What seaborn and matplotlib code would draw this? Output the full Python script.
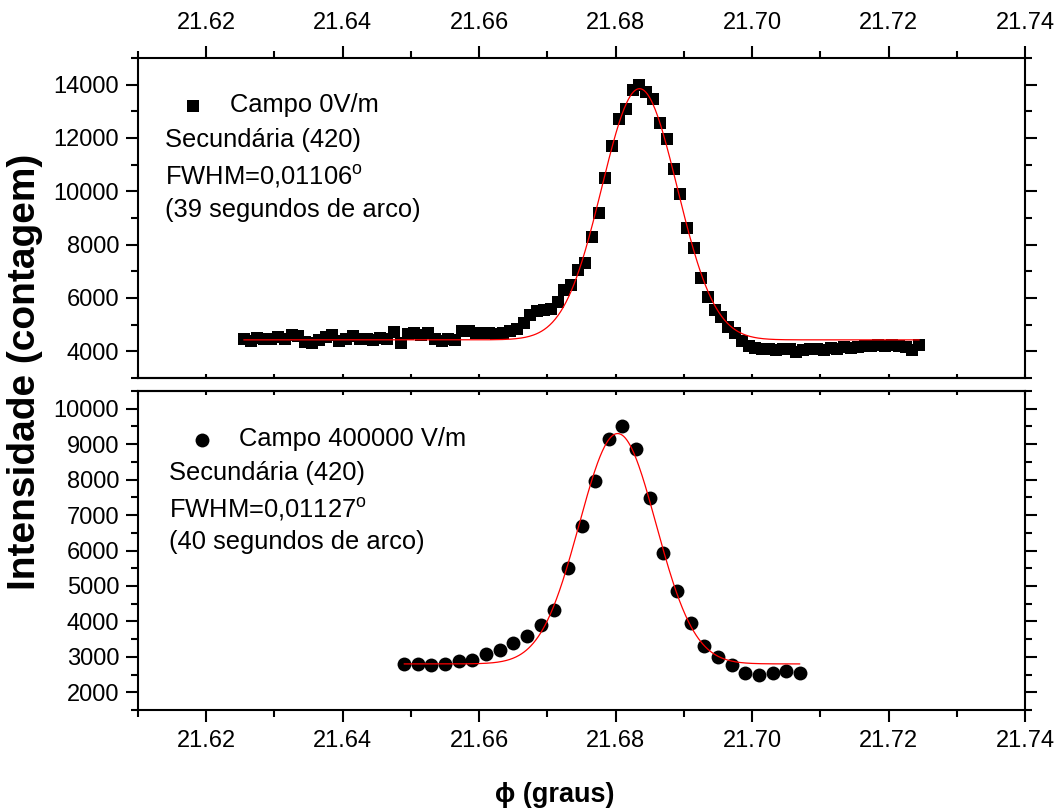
import numpy as np
import pandas as pd
import matplotlib
matplotlib.use("Agg")
import matplotlib.pyplot as plt
from matplotlib.ticker import MultipleLocator, FormatStrFormatter
import seaborn as sns

# ---- scan grids (graus) ----
PHI0_START, PHI0_STEP = 21.6255, 0.001      # campo 0 V/m
PHI400_START, PHI400_STEP = 21.649, 0.002   # campo 400000 V/m

# ---- measured intensities (contagem) ----
counts_0 = [
    4450, 4400, 4500, 4480, 4450, 4520, 4480, 4600, 4580, 4350,
    4300, 4420, 4550, 4600, 4400, 4450, 4560, 4480, 4450, 4420,
    4500, 4480, 4720, 4300, 4650, 4680, 4620, 4700, 4460, 4400,
    4450, 4420, 4780, 4760, 4700, 4690, 4700, 4660, 4700, 4780,
    4830, 5080, 5350, 5500, 5560, 5600, 5860, 6300, 6500, 7050,
    7300, 8280, 9170, 10500, 11700, 12700, 13100, 13800, 14000, 13740,
    13480, 12550, 11950, 10840, 9910, 8610, 7870, 6750, 6040, 5560,
    5300, 4930, 4700, 4370, 4190, 4120, 4090, 4080, 4060, 4100,
    4070, 3960, 4050, 4100, 4080, 4060, 4120, 4090, 4150, 4130,
    4180, 4200, 4190, 4230, 4210, 4250, 4200, 4180, 4060, 4230,
]
counts_400 = [
    2790, 2800, 2770, 2800, 2880, 2910, 3090, 3180, 3400, 3590,
    3900, 4330, 5520, 6680, 7970, 9150, 9500, 8850, 7480, 5940,
    4870, 3960, 3300, 2990, 2780, 2550, 2480, 2530, 2600, 2530,
]

# ---- Gaussian fits: y = y0 + A*exp(-2*((x-xc)/w)^2) ----
FIT0 = dict(y0=4430, xc=21.6835, A=9420, w=0.01106)
FIT400 = dict(y0=2800, xc=21.6803, A=6500, w=0.01127)

# ---- text ----
LEG0 = "Campo 0V/m"
LEG400 = "Campo 400000 V/m"
INFO0 = ["Secundária (420)", r"FWHM=0,01106$^{\mathrm{o}}$", "(39 segundos de arco)"]
INFO400 = ["Secundária (420)", r"FWHM=0,01127$^{\mathrm{o}}$", "(40 segundos de arco)"]
XLABEL = "\u03d5 (graus)"
YLABEL = "Intensidade (contagem)"

phi0 = np.round(PHI0_START + PHI0_STEP * np.arange(len(counts_0)), 4)
phi400 = np.round(PHI400_START + PHI400_STEP * np.arange(len(counts_400)), 4)
df0 = pd.DataFrame({"phi": phi0, "counts": counts_0})
df400 = pd.DataFrame({"phi": phi400, "counts": counts_400})


def gauss(x, y0, xc, A, w):
    return y0 + A * np.exp(-2.0 * ((x - xc) / w) ** 2)


sns.set_style("ticks")
plt.rcParams.update({
    "font.family": ["Liberation Sans", "DejaVu Sans"],
    "mathtext.fontset": "custom",
    "mathtext.rm": "Liberation Sans",
    "mathtext.it": "Liberation Sans:italic",
    "mathtext.bf": "Liberation Sans:bold",
    "axes.edgecolor": "black",
    "axes.linewidth": 1.5,
    "xtick.color": "black",
    "ytick.color": "black",
    "text.color": "black",
    "axes.labelcolor": "black",
})

W, H = 1059, 809
fig = plt.figure(figsize=(W / 100, H / 100), dpi=100)
ax_top = fig.add_axes([138 / W, 1 - 378 / H, 887 / W, 320 / H])
ax_bot = fig.add_axes([138 / W, 1 - 710 / H, 887 / W, 319 / H])

TICK_FS = 17
TEXT_FS = 18.4
XLABEL_FS = 19.5
YLABEL_FS = 28

panels = [
    (ax_top, df0, FIT0, "s", 85, LEG0, INFO0, (3000, 15000), 2000, 1000,
     (0.0474, 0.852), 0.0304),
    (ax_bot, df400, FIT400, "o", 100, LEG400, INFO400, (1500, 10500), 1000, 500,
     (0.0575, 0.848), 0.0345),
]

for (ax, df, fit, marker, size, leg, info, ylim, ymaj, ymin,
     leg_anchor, info_x) in panels:
    sns.scatterplot(data=df, x="phi", y="counts", marker=marker, s=size,
                    color="black", edgecolor="black", linewidth=0,
                    ax=ax, label=leg, zorder=2)
    xf = np.linspace(df["phi"].iloc[0], df["phi"].iloc[-1], 500)
    sns.lineplot(x=xf, y=gauss(xf, **fit), color="red", linewidth=0.9,
                 ax=ax, zorder=3, legend=False)

    ax.set_xlim(21.61, 21.74)
    ax.set_ylim(*ylim)
    ax.set_xlabel("")
    ax.set_ylabel("")

    ax.xaxis.set_major_locator(MultipleLocator(0.02))
    ax.xaxis.set_minor_locator(MultipleLocator(0.01))
    ax.xaxis.set_major_formatter(FormatStrFormatter("%.2f"))
    ax.yaxis.set_major_locator(MultipleLocator(ymaj))
    ax.yaxis.set_minor_locator(MultipleLocator(ymin))
    ax.yaxis.set_major_formatter(FormatStrFormatter("%d"))

    ax.tick_params(axis="both", which="major", length=8.6, width=1.5,
                   labelsize=TICK_FS, direction="out")
    ax.tick_params(axis="both", which="minor", length=5, width=1.5,
                   direction="out")
    ax.tick_params(axis="y", which="both", left=True, right=True,
                   labelleft=True, labelright=False, pad=5)

    handles, labels = ax.get_legend_handles_labels()
    ax.legend(handles[:1], labels[:1], loc="center left",
              bbox_to_anchor=leg_anchor, frameon=False, fontsize=TEXT_FS,
              handlelength=1.0, handletextpad=0.95, borderpad=0,
              borderaxespad=0)

    for txt, yb in zip(info, (0.721, 0.604, 0.504)):
        ax.text(info_x, yb, txt, transform=ax.transAxes, fontsize=TEXT_FS,
                ha="left", va="baseline")

# top panel: labelled scale on top, short inner ticks facing the lower panel
ax_top.tick_params(axis="x", which="both", bottom=False, labelbottom=False,
                   top=True, labeltop=True)
ax_top.tick_params(axis="x", which="major", pad=9)
sec_top = ax_top.secondary_xaxis("bottom")
sec_top.xaxis.set_major_locator(MultipleLocator(0.02))
sec_top.xaxis.set_minor_locator(MultipleLocator(0.01))
sec_top.tick_params(axis="x", which="both", direction="in", length=3,
                    width=1.5, labelbottom=False)
sec_top.spines["bottom"].set_linewidth(1.5)

# bottom panel: labelled scale below, short inner ticks on its upper edge
ax_bot.tick_params(axis="x", which="both", bottom=True, labelbottom=True,
                   top=False, labeltop=False)
ax_bot.tick_params(axis="x", which="major", pad=5.5)
sec_bot = ax_bot.secondary_xaxis("top")
sec_bot.xaxis.set_major_locator(MultipleLocator(0.02))
sec_bot.xaxis.set_minor_locator(MultipleLocator(0.01))
sec_bot.tick_params(axis="x", which="both", direction="in", length=3,
                    width=1.5, labeltop=False)
sec_bot.spines["top"].set_linewidth(1.5)

fig.text(25 / W, 1 - 372 / H, YLABEL, rotation=90, fontsize=YLABEL_FS,
         fontweight="bold", ha="center", va="center")
fig.text(555 / W, 1 - 795 / H, XLABEL, fontsize=XLABEL_FS,
         fontweight="bold", ha="center", va="center")

fig.savefig("out.png", dpi=100)
